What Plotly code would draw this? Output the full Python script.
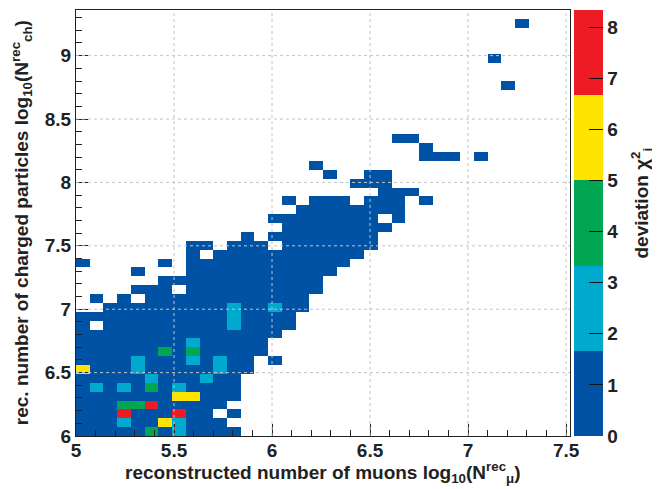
import plotly.graph_objects as go

# ---------------- data ----------------
x_start = 5.0          # first bin edge, log10(N_mu)
y_start = 6.0          # first bin edge, log10(N_ch)
bin_w = 0.07
n_x = 36
n_y = 48

# one string per row of bins (bottom row first); one character per x bin
# B: 0-1.67, C: 1.67-3.33, G: 3.33-5, Y: 5-6.67, R: 6.67-8.33, '.': empty
rows = [
    "BBBBBGBCBBBB",                       # 6.00
    "BBBCBBYCBBB",
    "BBBRBBBRBB.B",
    "BBBGGRBBBBB",
    "BBBBBBBYYBBB",
    "BCBCBGBCBBBB",
    "BBBBBCBBBCBB",
    "YBBBCBBBBBCBB",
    "BBBBCBBBCBCBB.B",
    "BBBBBBGBGBBBBB",
    "BBBBBBBBCBBBBB",                     # 6.70
    "BBBBBBBBBBBBBBB",
    "B.BBBBBBBBBCBBBB",
    "BBBBBBBBBBBCBBBB",
    "..BBBBBBBBBCBBCBB",
    ".B.B.BBBBBBBBBBBB",
    "....BBB.BBBBBBBBBB",
    "......BBBBBBBBBBBB",
    "....B...BBBBBBBBBBB",
    "B.....B.BBBBBBBBBBBB",
    "........B.BBBBBBBBBBB",              # 7.40
    "........BB.BBB.BBBBBBB",
    "............B.BBBBBBBB",
    "...............BBBBBBBB",
    "..............BBBBBBBB.B",
    "................BBBBBBBB",
    "...............B.BBB.BBB.B",
    "......................BBB",
    "....................BBB",
    "..................B..BB",
    ".................B",                 # 8.10
    ".........................BBB.B",
    ".........................B",
    ".......................BB",
    "", "", "", "", "",
    "...............................B",
    "", "",
    "..............................B",
    "", "", "",
    "................................B",
    "",
]
level_values = {"B": 0.8, "C": 2.5, "G": 4.2, "Y": 5.8, "R": 7.5}

x_ticks = [5, 5.5, 6, 6.5, 7, 7.5]
y_ticks = [6, 6.5, 7, 7.5, 8, 8.5, 9]
z_ticks = [0, 1, 2, 3, 4, 5, 6, 7, 8]
z_max = 8.3333

# ---------------- build ----------------
z = []
for r in rows:
    z.append([level_values.get(ch) for ch in r.ljust(n_x, ".")])
while len(z) < n_y:
    z.append([None] * n_x)

blue, cyan, green, yellow, red = "#0053A4", "#00A9CE", "#00A651", "#FFE400", "#ED1C24"
cscale = [[0.0, blue], [0.2, blue], [0.2, cyan], [0.4, cyan], [0.4, green],
          [0.6, green], [0.6, yellow], [0.8, yellow], [0.8, red], [1.0, red]]

FONT = "Liberation Sans, Arial, Helvetica, sans-serif"
INK = "#222222"
FS = 19

fig = go.Figure(go.Heatmap(
    z=z, x0=x_start + bin_w / 2, dx=bin_w, y0=y_start + bin_w / 2, dy=bin_w,
    zmin=0, zmax=z_max, colorscale=cscale, hoverongaps=False,
    colorbar=dict(
        x=1.008, xanchor="left", xpad=0, y=0.5, yanchor="middle", ypad=0,
        len=1, lenmode="fraction", thickness=29, thicknessmode="pixels",
        outlinewidth=0, tickvals=z_ticks, ticks="inside", ticklen=14,
        tickwidth=1.2, tickcolor="#111111",
        tickfont=dict(family=FONT, size=FS, color=INK, weight="bold"),
    ),
))

grid_shapes = []
for xv in x_ticks[1:]:
    grid_shapes.append(dict(type="line", xref="x", yref="paper", x0=xv, x1=xv, y0=0, y1=1,
                            line=dict(color="#C4C4C4", width=1, dash="dot"), layer="above"))
for yv in y_ticks[1:]:
    grid_shapes.append(dict(type="line", xref="paper", yref="y", x0=0, x1=1, y0=yv, y1=yv,
                            line=dict(color="#C4C4C4", width=1, dash="dot"), layer="above"))

axis_common = dict(
    showgrid=False, zeroline=False, showline=True, mirror=True, linecolor=INK,
    linewidth=1.2, ticks="inside", ticklen=12, tickwidth=1.2, tickcolor=INK,
    tickfont=dict(family=FONT, size=FS, color=INK, weight="bold"),
    layer="above traces",
)

# the page body adds an 8 px offset, so the figure is 8 px smaller than the window
fig.update_layout(
    width=652, height=481,
    margin=dict(l=68, r=90, t=2, b=53),
    paper_bgcolor="white", plot_bgcolor="white",
    font=dict(family=FONT, size=FS, color=INK),
    xaxis=dict(range=[x_start, x_start + n_x * bin_w], tickvals=x_ticks,
               ticktext=[f"{v:g}" for v in x_ticks], ticklabelstandoff=-3,
               minor=dict(ticks="inside", ticklen=6, tickwidth=1, tickcolor=INK,
                          dtick=0.1, tick0=5, showgrid=False),
               **axis_common),
    yaxis=dict(range=[y_start, y_start + n_y * bin_w], tickvals=y_ticks,
               ticktext=[f"{v:g}" for v in y_ticks],
               minor=dict(ticks="inside", ticklen=6, tickwidth=1, tickcolor=INK,
                          dtick=0.1, tick0=6, showgrid=False),
               **axis_common),
    shapes=grid_shapes,
    annotations=[
        dict(text="reconstructed number of muons log<sub>10</sub>(N<sup>rec</sup><sub>μ</sub>)",
             xref="paper", yref="paper", x=0.5, y=-0.086, xanchor="center", yanchor="middle",
             showarrow=False, font=dict(family=FONT, size=FS, color=INK, weight="bold")),
        dict(text="rec. number of charged particles log<sub>10</sub>(N<sup>rec</sup><sub>ch</sub>)",
             xref="paper", yref="paper", x=-0.111, y=0.5, xanchor="center", yanchor="middle",
             textangle=-90, showarrow=False,
             font=dict(family=FONT, size=FS, color=INK, weight="bold")),
        dict(text="deviation χ<sup>2</sup><sub>i</sub>",
             xref="paper", yref="paper", x=1.144, y=0.546, xanchor="center", yanchor="middle",
             textangle=-90, showarrow=False,
             font=dict(family=FONT, size=FS, color=INK, weight="bold")),
    ],
)

fig.write_html("out.html")
